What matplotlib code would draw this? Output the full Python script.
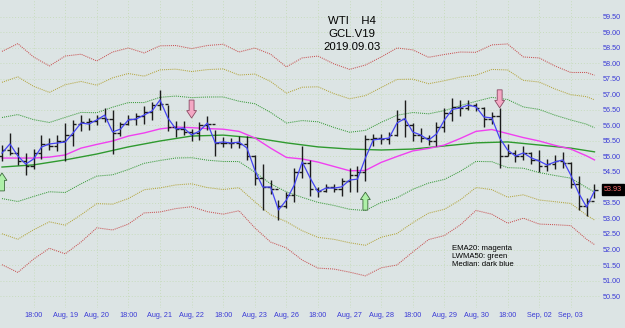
import matplotlib
matplotlib.use("Agg")
import matplotlib.pyplot as plt
from matplotlib.patches import FancyArrow
import numpy as np

plt.rcParams["font.family"] = ["Liberation Sans", "DejaVu Sans"]

# H4 bars, Aug 16 - Sep 03 (76 bars)
highs = [55.37, 55.76, 55.31, 55.11, 55.24, 55.69, 55.60, 55.69, 56.08, 56.18,
         56.34, 56.24, 56.34, 56.56, 56.50, 56.11, 56.34, 56.40, 56.63, 56.76,
         57.15, 56.66, 56.15, 56.15, 55.89, 56.11, 56.31, 55.85, 55.63, 55.60,
         55.66, 55.66, 55.05, 54.76, 54.24, 53.60, 53.85, 54.63, 55.34, 54.89,
         54.02, 54.11, 54.11, 54.31, 54.63, 54.69, 55.69, 55.73, 55.73, 55.79,
         56.50, 56.82, 56.08, 55.92, 55.69, 56.11, 56.56, 56.89, 56.82, 56.82,
         56.73, 56.60, 56.44, 56.56, 55.40, 55.21, 55.34, 55.15, 55.21, 54.92,
         55.05, 55.15, 54.82, 54.37, 53.66, 54.11]
lows = [54.85, 55.05, 54.73, 54.40, 54.60, 54.92, 55.21, 55.18, 54.85, 55.34,
        55.82, 55.85, 56.02, 56.11, 55.08, 55.66, 56.02, 56.02, 56.05, 56.18,
        56.50, 55.82, 55.63, 55.69, 55.50, 55.53, 55.85, 55.02, 55.31, 55.27,
        55.27, 54.89, 54.08, 53.27, 53.79, 52.95, 53.34, 53.53, 54.31, 53.73,
        53.69, 53.85, 53.85, 53.73, 53.85, 53.85, 54.21, 55.34, 55.40, 55.40,
        55.66, 55.63, 55.50, 55.47, 55.37, 55.34, 55.79, 56.15, 56.31, 56.50,
        56.47, 55.95, 56.05, 54.63, 55.02, 54.82, 54.89, 54.76, 54.50, 54.53,
        54.60, 54.63, 53.98, 53.27, 53.08, 53.66]
closes = [55.20, 55.10, 54.85, 54.70, 55.10, 55.40, 55.35, 55.50, 55.70, 56.05,
          56.10, 56.15, 56.25, 56.20, 55.75, 56.05, 56.20, 56.30, 56.45, 56.65,
          56.70, 55.95, 55.90, 55.80, 55.75, 56.00, 56.05, 55.45, 55.45, 55.45,
          55.40, 55.00, 54.30, 54.00, 53.95, 53.40, 53.75, 54.50, 54.80, 53.95,
          53.90, 54.00, 53.95, 54.20, 54.40, 54.50, 55.55, 55.60, 55.55, 55.70,
          56.20, 56.00, 55.70, 55.60, 55.50, 55.95, 56.40, 56.60, 56.55, 56.65,
          56.55, 56.20, 56.30, 55.00, 55.10, 55.00, 55.10, 54.90, 54.70, 54.75,
          54.85, 54.80, 54.10, 53.40, 53.55, 53.93]
first_open = 55.00

# EMA20 and outer envelope offset, read every 2nd bar (+ last bar)
ema20 = [54.95, 54.95, 54.95, 54.98, 55.05, 55.27, 55.39, 55.50, 55.66, 55.76,
         55.89, 55.95, 55.93, 55.90, 55.88, 55.81, 55.60, 55.27, 54.97, 54.92,
         54.82, 54.68, 54.54, 54.55, 54.81, 55.00, 55.18, 55.26, 55.37, 55.58,
         55.81, 55.87, 55.74, 55.61, 55.50, 55.36, 55.24, 55.02, 54.89]
env_width = [3.44, 3.69, 3.26, 2.94, 3.19, 3.03, 2.69, 2.87, 2.84, 2.58,
             2.68, 2.63, 2.55, 2.68, 2.74, 2.56, 2.90, 3.03, 2.92, 3.26,
             3.42, 3.31, 3.27, 3.40, 3.40, 3.50, 3.26, 2.94, 2.92, 2.79,
             2.55, 2.73, 2.89, 2.60, 2.68, 2.56, 2.47, 2.69, 2.73]
env_levels = [("#3a9a3a", 0.38), ("#b4a640", 0.71), ("#c85454", 1.0)]

# LWMA50, read every 4th bar (+ last bar)
lwma50 = [54.66, 54.73, 54.89, 55.08, 55.31, 55.50, 55.66, 55.69, 55.60, 55.44,
          55.31, 55.24, 55.21, 55.24, 55.34, 55.44, 55.47, 55.37, 55.27, 55.15]

tick_labels = ["18:00", "Aug, 19", "Aug, 20", "18:00", "Aug, 21", "Aug, 22",
               "18:00", "Aug, 23", "Aug, 26", "18:00", "Aug, 27", "Aug, 28",
               "18:00", "Aug, 29", "Aug, 30", "18:00", "Sep, 02", "Sep, 03"]

# signal arrows
sell_bars = [24, 63]
sell_top = [56.82, 57.15]
buy_bars = [0, 46]
buy_bottom = [53.89, 53.27]

last_price = 53.93

bg = "#dce4e4"
axis_blue = "#3a3ad6"

n = len(highs)
x = np.arange(n)
highs = np.array(highs)
lows = np.array(lows)
closes = np.array(closes)
opens = np.concatenate([[first_open], closes[:-1]])
median = (highs + lows) / 2

x_ema = list(range(0, n - 1, 2)) + [n - 1]
x_lwma = list(range(0, n - 3, 4)) + [n - 1]
ema20 = np.array(ema20)
env_width = np.array(env_width)

fig = plt.figure(figsize=(6.25, 3.28), dpi=100)
fig.patch.set_facecolor(bg)
ax = fig.add_axes([0, 20 / 328, 600 / 625, 308 / 328])
ax.set_facecolor(bg)

# envelopes
for color, k in env_levels:
    ax.plot(x_ema, ema20 + k * env_width, color=color, lw=0.75, ls=(0, (1, 1)), zorder=2)
    ax.plot(x_ema, ema20 - k * env_width, color=color, lw=0.75, ls=(0, (1, 1)), zorder=2)

ax.plot(x_lwma, lwma50, color="#2f9a2f", lw=1.0, zorder=3)
ax.plot(x_ema, ema20, color="#f040f0", lw=1.0, zorder=3)

# OHLC bars
ax.vlines(x, lows, highs, color="#1c1c1c", lw=1.0, zorder=4)
ax.hlines(opens, x - 0.42, x, color="#1c1c1c", lw=1.0, zorder=4)
ax.hlines(closes, x, x + 0.42, color="#1c1c1c", lw=1.0, zorder=4)

ax.plot(x, median, color="#4444f4", lw=0.9, zorder=5)

for b, top in zip(sell_bars, sell_top):
    ax.add_patch(FancyArrow(b, top, 0, -0.58, width=0.62, head_width=1.25,
                            head_length=0.24, length_includes_head=True,
                            fc="#f4a8c4", ec="#8a4a64", lw=0.6, zorder=6))
for b, bot in zip(buy_bars, buy_bottom):
    ax.add_patch(FancyArrow(b, bot, 0, 0.58, width=0.62, head_width=1.25,
                            head_length=0.24, length_includes_head=True,
                            fc="#aef0a8", ec="#3c6a3c", lw=0.6, zorder=6))

ax.set_xlim(-0.253, 75.7)
ax.set_ylim(50.113, 60.048)

ax.set_xticks(range(4, 73, 4))
ax.set_xticklabels(tick_labels)
yt = np.arange(50.5, 59.51, 0.5)
ax.set_yticks(yt)
ax.set_yticklabels(["" if abs(v - 54.0) < 1e-6 else f"{v:.2f}" for v in yt])
ax.yaxis.tick_right()
ax.tick_params(axis="x", length=0, pad=3.2, labelsize=5.2, labelcolor=axis_blue)
ax.tick_params(axis="y", length=0, pad=2.2, labelsize=5.2, labelcolor=axis_blue)
ax.grid(True, color="#c8dcbe", lw=0.7, ls=(0, (1, 2)), zorder=0)
for s in ax.spines.values():
    s.set_visible(False)

ax.text(1.006, last_price, f"{last_price:.2f}", transform=ax.get_yaxis_transform(),
        ha="left", va="center", fontsize=5.2, color="#ff7070", clip_on=False,
        bbox=dict(boxstyle="square,pad=0.25", fc="black", ec="black"), zorder=7)

for i, line in enumerate(["WTI    H4", "GCL.V19", "2019.09.03"]):
    fig.text(352 / 625, 1 - (21 + 13 * i) / 328, line, ha="center", va="center",
             fontsize=8.2, color="black")

for i, line in enumerate(["EMA20: magenta", "LWMA50: green", "Median: dark blue"]):
    fig.text(452 / 625, 1 - (249 + 8 * i) / 328, line, ha="left", va="center",
             fontsize=5.6, color="black")

fig.savefig("out.png", dpi=100, facecolor=bg)
